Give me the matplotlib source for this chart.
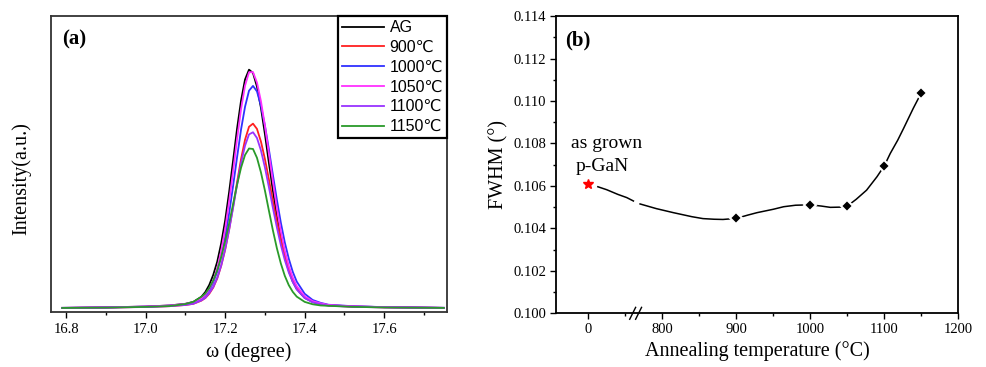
import matplotlib
matplotlib.use("Agg")
import matplotlib.pyplot as plt
from matplotlib.ticker import MultipleLocator, NullLocator, FixedLocator

SERIF = "Liberation Serif"
SANS = ["Liberation Sans", "DejaVu Sans"]

# ---- panel (a): rocking curves, intensity normalised to the AG peak ----
omega = [16.79, 16.90, 17.00, 17.06, 17.10, 17.12, 17.14, 17.15, 17.16, 17.17,
         17.18, 17.19, 17.20, 17.21, 17.22, 17.23, 17.24, 17.25, 17.26, 17.27,
         17.28, 17.29, 17.30, 17.31, 17.32, 17.33, 17.34, 17.35, 17.36, 17.37,
         17.38, 17.40, 17.42, 17.44, 17.46, 17.52, 17.60, 17.75]

int_ag = [0.002, 0.004, 0.0075, 0.012, 0.019, 0.027, 0.048, 0.068, 0.098, 0.140,
          0.195, 0.272, 0.368, 0.487, 0.619, 0.753, 0.870, 0.958, 0.999, 0.985,
          0.928, 0.839, 0.729, 0.609, 0.493, 0.385, 0.292, 0.216, 0.157, 0.112,
          0.081, 0.044, 0.027, 0.019, 0.013, 0.008, 0.005, 0.002]
int_900 = [0.0016, 0.003, 0.006, 0.009, 0.014, 0.019, 0.032, 0.043, 0.061, 0.087,
           0.125, 0.178, 0.246, 0.330, 0.426, 0.528, 0.625, 0.706, 0.760, 0.773,
           0.751, 0.698, 0.625, 0.540, 0.450, 0.365, 0.286, 0.218, 0.162, 0.119,
           0.086, 0.046, 0.027, 0.018, 0.012, 0.007, 0.004, 0.0018]
int_1000 = [0.0019, 0.0037, 0.007, 0.011, 0.017, 0.024, 0.041, 0.054, 0.075, 0.108,
            0.154, 0.217, 0.299, 0.398, 0.513, 0.633, 0.749, 0.844, 0.911, 0.931,
            0.908, 0.848, 0.765, 0.665, 0.559, 0.455, 0.359, 0.276, 0.208, 0.153,
            0.112, 0.061, 0.035, 0.023, 0.015, 0.009, 0.005, 0.0022]
int_1050 = [0.002, 0.004, 0.0075, 0.0118, 0.0185, 0.025, 0.042, 0.057, 0.081, 0.116,
            0.168, 0.240, 0.333, 0.447, 0.575, 0.709, 0.834, 0.932, 0.988, 0.989,
            0.945, 0.867, 0.765, 0.648, 0.532, 0.420, 0.323, 0.242, 0.177, 0.129,
            0.093, 0.050, 0.030, 0.021, 0.014, 0.0085, 0.005, 0.002]
int_1100 = [0.0015, 0.003, 0.0055, 0.009, 0.014, 0.019, 0.033, 0.044, 0.064, 0.089,
            0.127, 0.179, 0.247, 0.329, 0.421, 0.518, 0.609, 0.681, 0.728, 0.737,
            0.713, 0.661, 0.590, 0.507, 0.421, 0.339, 0.265, 0.202, 0.150, 0.110,
            0.079, 0.043, 0.025, 0.017, 0.011, 0.0065, 0.0037, 0.0017]
int_1150 = [0.0015, 0.003, 0.006, 0.0095, 0.018, 0.027, 0.048, 0.062, 0.085, 0.117,
            0.159, 0.215, 0.281, 0.356, 0.437, 0.518, 0.589, 0.642, 0.669, 0.667,
            0.630, 0.569, 0.493, 0.409, 0.327, 0.252, 0.188, 0.136, 0.097, 0.069,
            0.049, 0.027, 0.017, 0.012, 0.0105, 0.0063, 0.0037, 0.0017]

series_labels = ["AG", "900\u2103", "1000\u2103", "1050\u2103", "1100\u2103", "1150\u2103"]
series_colors = ["#000000", "#ff2020", "#3030ff", "#ff30ff", "#9933ff", "#2a9a2a"]

# ---- panel (b): FWHM vs annealing temperature ----
anneal_temp = [900, 1000, 1050, 1100, 1150]
fwhm = [0.10447, 0.10511, 0.10505, 0.10695, 0.11039]
as_grown_fwhm = 0.1061

# smooth guide line (x in broken-axis units, 700 = as grown)
guide_x1 = [713, 725, 740, 752, 761]
guide_y1 = [0.10596, 0.10582, 0.10560, 0.10545, 0.10529]
guide_x2 = [770, 792, 815, 840, 855, 870, 882, 900, 915, 928, 950, 964,
            980, 1000, 1015, 1027, 1040, 1050, 1062, 1076, 1090, 1100,
            1108, 1118, 1126, 1139, 1150]
guide_y2 = [0.10515, 0.10493, 0.10474, 0.10455, 0.10446, 0.10443, 0.10442,
            0.10447, 0.10462, 0.10474, 0.10490, 0.10502, 0.10509, 0.10511,
            0.10505, 0.10499, 0.10500, 0.10505, 0.10537, 0.10580, 0.10643,
            0.10695, 0.10753, 0.10815, 0.10871, 0.10965, 0.11039]

xticks_b = [700, 800, 900, 1000, 1100, 1200]
xticklabels_b = ["0", "800", "900", "1000", "1100", "1200"]

fig = plt.figure(figsize=(9.87, 3.67), dpi=100)
ax1 = fig.add_axes([0.0517, 0.149, 0.4012, 0.807])
ax2 = fig.add_axes([0.563, 0.1463, 0.408, 0.810])

all_int = [int_ag, int_900, int_1000, int_1050, int_1100, int_1150]
for vals, lab, col in zip(all_int, series_labels, series_colors):
    ax1.plot(omega, vals, color=col, lw=1.3, label=lab)

ax1.set_xlim(16.762, 17.758)
ax1.set_ylim(-0.0167, 1.223)
ax1.xaxis.set_major_locator(MultipleLocator(0.2))
ax1.xaxis.set_minor_locator(MultipleLocator(0.1))
ax1.yaxis.set_major_locator(NullLocator())
ax1.tick_params(axis="x", which="major", direction="out", length=4, width=1,
                pad=4, labelsize=10.5, top=False)
ax1.tick_params(axis="x", which="minor", direction="out", length=2.5, width=1, top=False)
for lbl in ax1.get_xticklabels():
    lbl.set_fontfamily(SERIF)
for sp in ax1.spines.values():
    sp.set_linewidth(1.3)
    sp.set_color("#333333")
ax1.set_xlabel("\u03c9 (degree)", fontfamily=SERIF, fontsize=14.5, labelpad=4)
ax1.set_ylabel("Intensity(a.u.)", fontfamily=SERIF, fontsize=14.5)
ax1.yaxis.set_label_coords(-0.05, 0.45)
ax1.text(0.028, 0.955, "(a)", transform=ax1.transAxes, fontfamily=SERIF,
         fontweight="bold", fontsize=15, va="top", ha="left")
leg = ax1.legend(loc="upper right", bbox_to_anchor=(1.0, 1.0), borderaxespad=0,
                 prop={"family": SANS, "size": 11.5}, handlelength=2.6,
                 handletextpad=0.35, labelspacing=0.3, borderpad=0.25,
                 fancybox=False, framealpha=1, edgecolor="black")
leg.get_frame().set_linewidth(1.6)

# panel (b)
ax2.plot(guide_x1, guide_y1, color="black", lw=1.1)
ax2.plot(guide_x2, guide_y2, color="black", lw=1.1)
ax2.plot(anneal_temp, fwhm, linestyle="none", marker="D", ms=6, color="black",
         mec="white", mew=1.5)
ax2.plot([700], [as_grown_fwhm], linestyle="none", marker="*", ms=7, color="red",
         mec="red")

ax2.set_xlim(656, 1200)
ax2.set_ylim(0.100, 0.114)
ax2.xaxis.set_major_locator(FixedLocator(xticks_b))
ax2.set_xticklabels(xticklabels_b)
ax2.xaxis.set_minor_locator(FixedLocator([750, 850, 950, 1050, 1150]))
ax2.yaxis.set_major_locator(MultipleLocator(0.002))
ax2.yaxis.set_minor_locator(MultipleLocator(0.001))
ax2.tick_params(which="major", direction="out", length=4, width=1, pad=3, labelsize=10.5)
ax2.tick_params(which="minor", direction="out", length=2.5, width=1)
for lbl in ax2.get_xticklabels() + ax2.get_yticklabels():
    lbl.set_fontfamily(SERIF)
ax2.yaxis.set_major_formatter(plt.FuncFormatter(lambda v, p: f"{v:.3f}"))
for sp in ax2.spines.values():
    sp.set_linewidth(1.3)
ax2.set_xlabel("Annealing temperature (\u00b0C)", fontfamily=SERIF, fontsize=14.5, labelpad=4)
ax2.set_ylabel("FWHM (\u00b0)", fontfamily=SERIF, fontsize=14.5, labelpad=3)
ax2.text(0.024, 0.95, "(b)", transform=ax2.transAxes, fontfamily=SERIF,
         fontweight="bold", fontsize=15, va="top", ha="left")
ax2.text(725, 0.1080, "as grown", fontfamily=SERIF, fontsize=14, ha="center", va="center")
ax2.text(719, 0.10693, "p-GaN", fontfamily=SERIF, fontsize=14, ha="center", va="center")

# axis break marks
trans = ax2.get_xaxis_transform()
for xb in (760, 768):
    ax2.plot([xb - 4, xb + 4], [-0.02, 0.02], transform=trans, color="black",
             lw=1.0, clip_on=False)

fig.savefig("out.png", dpi=100)
